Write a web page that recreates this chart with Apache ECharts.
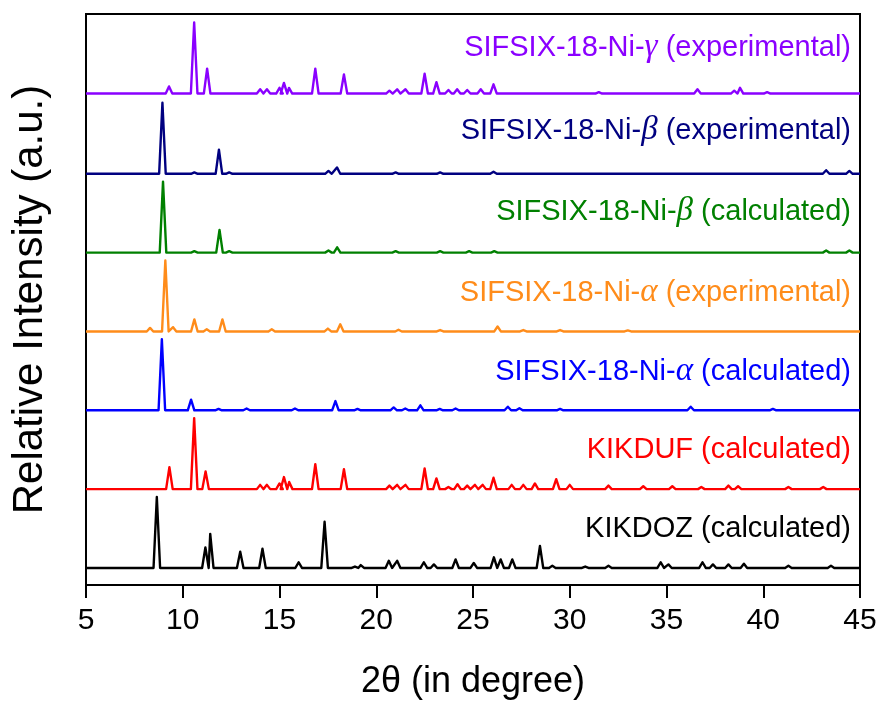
<!DOCTYPE html>
<html>
<head>
<meta charset="utf-8">
<script src="https://cdn.jsdelivr.net/npm/echarts@6/dist/echarts.min.js"></script>
<style>
    html, body { margin: 0; padding: 0; background: #fff; }
    #chart { width: 883px; height: 704px; }
</style>
</head>
<body>
<div id="chart"></div>
<script>
// peaks: [2theta, height relative to strongest peak]
const kikdozPeaks = [
    [8.66, 1.0], [11.17, 0.29], [11.42, 0.48], [12.97, 0.23], [14.12, 0.27],
    [15.99, 0.08], [17.33, 0.65], [18.9, 0.02], [19.2, 0.04], [20.65, 0.1],
    [21.08, 0.1], [22.46, 0.08], [22.98, 0.05], [24.1, 0.12], [25.04, 0.07],
    [26.08, 0.15], [26.43, 0.12], [27.03, 0.12], [28.46, 0.31], [29.1, 0.03],
    [30.8, 0.02], [32.0, 0.03], [34.7, 0.08], [35.1, 0.05], [36.86, 0.08],
    [37.4, 0.05], [38.2, 0.05], [39.0, 0.06], [41.3, 0.03], [43.5, 0.03]
];
const kikdufPeaks = [
    [9.31, 0.31], [10.59, 1.0], [11.18, 0.25], [14.0, 0.06], [14.35, 0.06],
    [15.0, 0.08], [15.23, 0.17], [15.5, 0.1], [16.85, 0.35], [18.33, 0.28],
    [20.68, 0.05], [21.08, 0.06], [21.51, 0.06], [22.5, 0.29], [23.11, 0.15],
    [23.73, 0.03], [24.2, 0.07], [24.7, 0.05], [25.1, 0.06], [25.5, 0.06],
    [26.06, 0.16], [27.0, 0.06], [27.6, 0.06], [28.2, 0.08], [29.3, 0.14],
    [30.0, 0.06], [32.0, 0.05], [33.8, 0.04], [35.3, 0.04], [36.8, 0.03],
    [38.2, 0.05], [38.7, 0.04], [41.3, 0.03], [43.1, 0.03]
];
const alphaCalcPeaks = [
    [8.92, 1.0], [10.43, 0.15], [11.85, 0.02], [13.3, 0.025], [15.8, 0.025],
    [17.89, 0.13], [19.03, 0.02], [20.9, 0.04], [21.5, 0.025], [22.28, 0.07],
    [23.28, 0.02], [24.1, 0.025], [26.8, 0.05], [27.4, 0.03], [29.5, 0.02],
    [36.25, 0.05], [40.5, 0.02]
];
const alphaExpPeaks = [
    [8.31, 0.05], [9.1, 1.0], [9.5, 0.06], [10.6, 0.17], [11.24, 0.03],
    [12.05, 0.17], [14.6, 0.03], [17.5, 0.04], [18.14, 0.1], [21.15, 0.025],
    [23.3, 0.02], [26.27, 0.07], [27.6, 0.02], [29.5, 0.02], [33.0, 0.015]
];
const betaCalcPeaks = [
    [8.98, 1.0], [10.6, 0.02], [11.9, 0.32], [12.4, 0.02], [17.53, 0.03],
    [17.98, 0.075], [21.0, 0.02], [23.3, 0.02], [24.8, 0.02], [26.1, 0.02],
    [43.25, 0.03], [44.45, 0.03]
];
const betaExpPeaks = [
    [8.95, 1.0], [10.6, 0.02], [11.87, 0.34], [12.4, 0.02], [17.53, 0.04],
    [17.97, 0.09], [21.0, 0.02], [23.3, 0.02], [26.06, 0.03], [43.25, 0.05],
    [44.45, 0.04]
];
const gammaExpPeaks = [
    [9.29, 0.1], [10.59, 1.0], [11.26, 0.35], [14.0, 0.06], [14.35, 0.06],
    [15.0, 0.08], [15.23, 0.15], [15.49, 0.08], [16.85, 0.35], [18.33, 0.27],
    [20.68, 0.04], [21.08, 0.06], [21.51, 0.06], [22.5, 0.28], [23.11, 0.16],
    [23.73, 0.05], [24.18, 0.06], [24.7, 0.05], [25.4, 0.06], [26.06, 0.13],
    [31.5, 0.02], [36.6, 0.06], [38.5, 0.04], [38.8, 0.08], [40.2, 0.02]
];

// bottom to top
const names = [
    ["KIKDOZ (calculated)"],
    ["KIKDUF (calculated)"],
    ["SIFSIX-18-Ni-", "α", " (calculated)"],
    ["SIFSIX-18-Ni-", "α", " (experimental)"],
    ["SIFSIX-18-Ni-", "β", " (calculated)"],
    ["SIFSIX-18-Ni-", "β", " (experimental)"],
    ["SIFSIX-18-Ni-", "γ", " (experimental)"]
];
const peakSets = [kikdozPeaks, kikdufPeaks, alphaCalcPeaks, alphaExpPeaks,
    betaCalcPeaks, betaExpPeaks, gammaExpPeaks];
const colors = ["#000000", "#ff0000", "#0000ff", "#ff8c1a", "#008000", "#000080", "#8a00ff"];
const offsets = [0.24, 1.35, 2.46, 3.57, 4.68, 5.79, 6.92];
const labelY = [531, 452, 372, 293, 212, 131, 48];

// each peak is drawn as a narrow spike on the baseline
const halfWidth = 0.17;
const toLine = (peaks, off) => {
    let pts = [[5, off]];
    _sorted(peaks).forEach(([x, h]) => {
        pts.push([x - halfWidth, off]);
        pts.push([x, off + h]);
        pts.push([x + halfWidth, off]);
    });
    pts.push([45, off]);
    return pts;
};
function _sorted(p) {
    return p.slice().sort((a, b) => a[0] - b[0]);
}

const chart = echarts.init(document.getElementById("chart"));

const series = peakSets.map((p, i) => ({
    type: "line",
    data: toLine(p, offsets[i]),
    showSymbol: false,
    symbol: "none",
    lineStyle: { color: colors[i], width: 2.4, join: "round" },
    animation: false,
    z: 2,
}));

const labels = names.map((n, i) => {
    const text = n.length === 1 ? n[0] : `${n[0]}{g|${n[1]}}${n[2]}`;
    return {
        type: "text",
        right: 32,
        top: labelY[i] - 17,
        style: {
            text: text,
            fill: colors[i],
            font: "29px 'Liberation Sans', Arial, sans-serif",
            rich: {
                g: {
                    fontFamily: "'Liberation Serif', 'Times New Roman', serif",
                    fontStyle: "italic",
                    fontSize: 33,
                    fill: colors[i],
                },
            },
        },
    };
});

chart.setOption({
    backgroundColor: "#fff",
    animation: false,
    textStyle: { fontFamily: "'Liberation Sans', Arial, sans-serif" },
    grid: {
        left: 86,
        right: 23,
        top: 14,
        bottom: 119,
        show: true,
        borderColor: "#000",
        borderWidth: 2,
        outerBoundsMode: "none",
    },
    xAxis: {
        type: "value",
        min: 5,
        max: 45,
        interval: 5,
        name: "2θ (in degree)",
        nameLocation: "middle",
        nameGap: 79,
        nameTextStyle: { fontSize: 36, color: "#000" },
        axisLine: { show: true, lineStyle: { color: "#000", width: 2 } },
        axisTick: { show: true, length: 13, lineStyle: { color: "#000", width: 2 } },
        axisLabel: { fontSize: 30, color: "#000", margin: 21 },
        splitLine: { show: false },
    },
    yAxis: {
        type: "value",
        min: 0,
        max: 8.04,
        name: "Relative Intensity (a.u.)",
        nameLocation: "middle",
        nameGap: 35,
        nameTextStyle: { fontSize: 42, color: "#000" },
        axisLine: { show: true, lineStyle: { color: "#000", width: 2 } },
        axisTick: { show: false },
        axisLabel: { show: false },
        splitLine: { show: false },
    },
    series: series,
    graphic: labels,
});
</script>
</body>
</html>
